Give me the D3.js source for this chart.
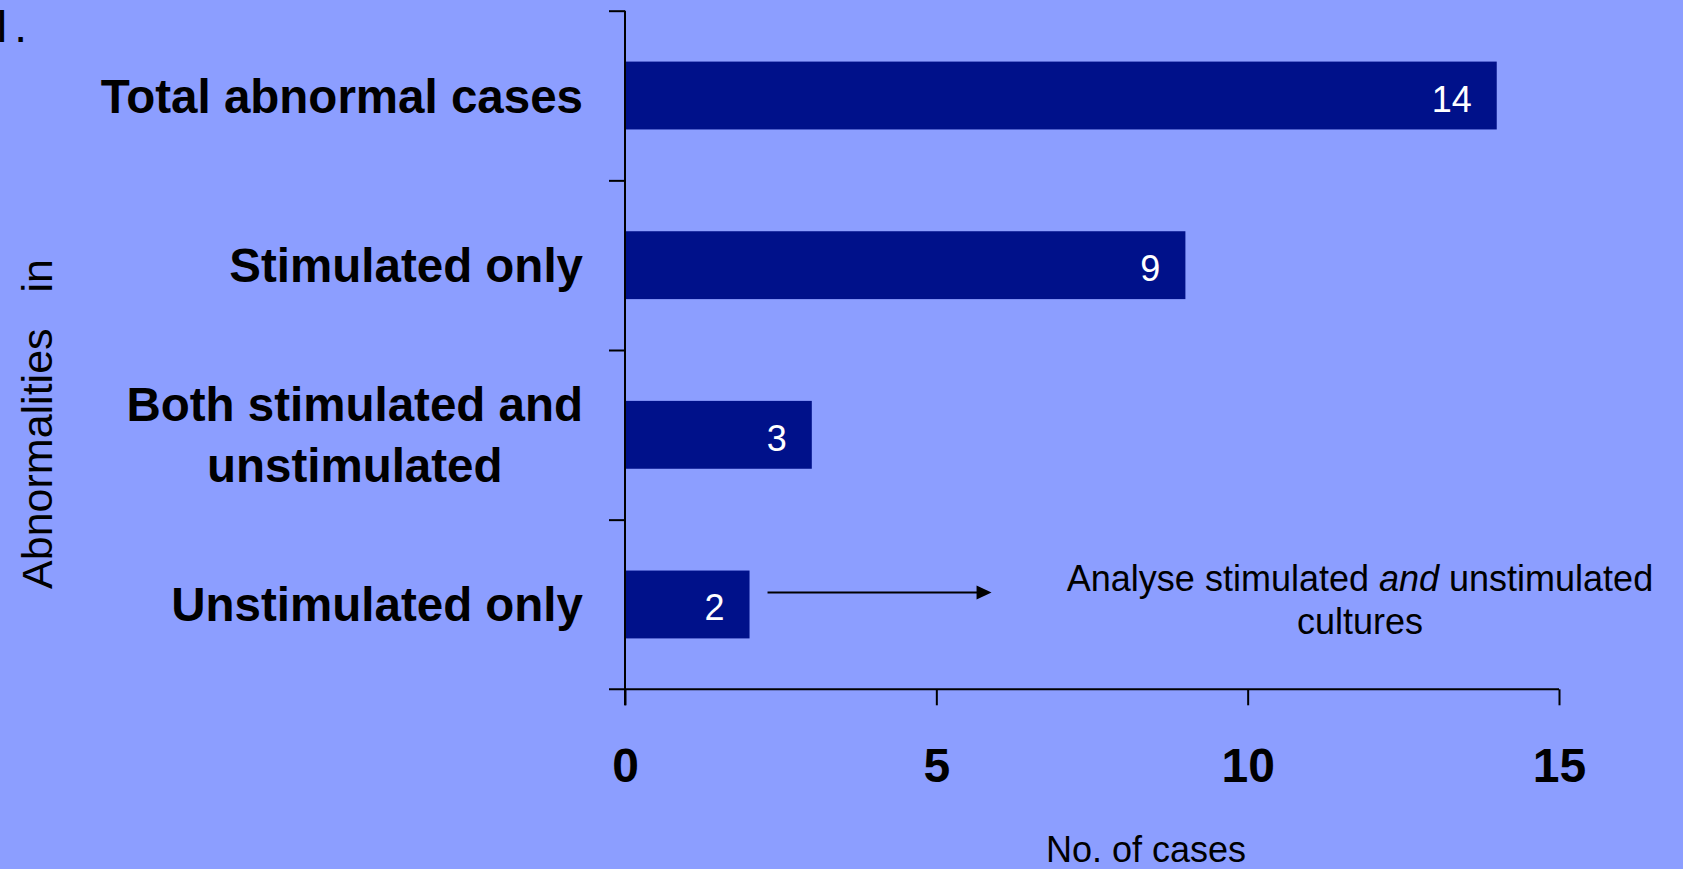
<!DOCTYPE html>
<html>
<head>
<meta charset="utf-8">
<script src="https://cdn.jsdelivr.net/npm/d3@7"></script>
<style>
  html, body { margin: 0; padding: 0; background: #8c9eff; overflow: hidden; }
  svg { display: block; font-family: "Liberation Sans", Arial, Helvetica, sans-serif; }
</style>
</head>
<body>
<svg id="chart" width="1683" height="869"></svg>
<script>
// Categories, top to bottom (multi-line labels split on "\n")
const categories = [
  "Total abnormal cases",
  "Stimulated only",
  "Both stimulated and\nunstimulated",
  "Unstimulated only"
];
const caseCounts = [14, 9, 3, 2];
const xTickValues = [0, 5, 10, 15];
const xDomain = [0, 15];
const xAxisTitle = "No. of cases";
const yAxisTitle = "Abnormalities   in";
const panelLabel = "I.";
const noteLine1 = ["Analyse stimulated ", "and", " unstimulated"];
const noteLine2 = "cultures";

(function () {
  const BG = "#8c9eff";
  const BAR = "#00118a";

  const svg = d3.select("#chart");
  svg.append("rect").attr("width", 1683).attr("height", 869).attr("fill", BG);

  // Plot area
  const plotLeft = 625, plotRight = 1559, plotTop = 10.7, plotBottom = 689.3;

  const x = d3.scaleLinear().domain(xDomain).range([plotLeft, plotRight]);
  const yBand = d3.scaleBand()
    .domain(categories)
    .range([plotTop, plotBottom])
    .paddingInner(0.6)
    .paddingOuter(0.3);
  // Category boundaries for the y-axis tick marks
  const yEdge = d3.scaleLinear().domain([0, categories.length]).range([plotTop, plotBottom]);

  const data = categories.map((c, i) => ({ cat: c, value: caseCounts[i] }));

  // Bars
  svg.append("g").selectAll("rect")
    .data(data)
    .join("rect")
    .attr("x", x(0))
    .attr("y", d => yBand(d.cat))
    .attr("width", d => x(d.value) - x(0))
    .attr("height", yBand.bandwidth())
    .attr("fill", BAR);

  // Value labels inside bar ends
  svg.append("g").selectAll("text")
    .data(data)
    .join("text")
    .attr("x", d => x(d.value) - 25)
    .attr("y", d => yBand(d.cat) + yBand.bandwidth() / 2 + 16)
    .attr("text-anchor", "end")
    .attr("fill", "#ffffff")
    .attr("font-size", 36)
    .text(d => d.value);

  // X axis
  const xAxis = d3.axisBottom(x)
    .tickValues(xTickValues)
    .tickSizeInner(16)
    .tickSizeOuter(0)
    .tickPadding(42.5)
    .tickFormat(d3.format("d"));
  const gx = svg.append("g").attr("transform", `translate(0,${plotBottom})`).call(xAxis);
  gx.select(".domain").attr("stroke", "#000").attr("stroke-width", 2)
    .attr("d", `M${plotLeft - 16},0H${plotRight}`);
  gx.selectAll(".tick line").attr("stroke", "#000").attr("stroke-width", 2);
  gx.selectAll(".tick text")
    .attr("fill", "#000")
    .attr("font-size", 48)
    .attr("font-weight", "bold")
    .attr("font-family", "'Liberation Sans', Arial, sans-serif");

  // Y axis: line with ticks at category boundaries, no labels
  const yAxis = d3.axisLeft(yEdge)
    .tickValues(d3.range(0, categories.length))
    .tickSizeInner(16)
    .tickSizeOuter(0)
    .tickFormat("");
  const gy = svg.append("g").attr("transform", `translate(${plotLeft},0)`).call(yAxis);
  gy.select(".domain").attr("stroke", "#000").attr("stroke-width", 2)
    .attr("d", `M0,${plotTop}V${plotBottom + 16}`);
  gy.selectAll(".tick line").attr("stroke", "#000").attr("stroke-width", 2);

  // Category labels: block right-aligned to the axis, lines centred within the block
  const labelRight = 583;
  const catFont = 47.5, catLine = 60.7;
  const gl = svg.append("g")
    .attr("font-size", catFont)
    .attr("font-weight", "bold")
    .attr("fill", "#000");
  data.forEach(d => {
    const lines = d.cat.split("\n");
    const cy = yBand(d.cat) + yBand.bandwidth() / 2;
    const t = gl.append("text").attr("text-anchor", "middle");
    lines.forEach((ln, i) => {
      t.append("tspan")
        .attr("y", cy + 17 + (i - (lines.length - 1) / 2) * catLine)
        .text(ln);
    });
    const w = d3.max(t.selectAll("tspan").nodes(), n => n.getComputedTextLength());
    t.selectAll("tspan").attr("x", labelRight - w / 2);
  });

  // Axis titles
  svg.append("text")
    .attr("x", 1146)
    .attr("y", 861.7)
    .attr("text-anchor", "middle")
    .attr("font-size", 36)
    .attr("fill", "#000")
    .text(xAxisTitle);

  svg.append("text")
    .attr("transform", "translate(51.5,424) rotate(-90)")
    .attr("text-anchor", "middle")
    .attr("font-size", 43)
    .attr("fill", "#000")
    .style("white-space", "pre")
    .text(yAxisTitle);

  // Panel label at the top-left corner
  svg.append("text")
    .attr("x", -4.5)
    .attr("y", 41.7)
    .attr("font-size", 46)
    .attr("letter-spacing", 6)
    .attr("fill", "#000")
    .text(panelLabel);

  // Annotation arrow from the "Unstimulated only" bar
  const last = data[data.length - 1];
  const arrowY = yBand(last.cat) + yBand.bandwidth() / 2 - 12;
  const ax0 = x(last.value) + 18, ax1 = ax0 + 224;
  svg.append("line")
    .attr("x1", ax0).attr("x2", ax1 - 14)
    .attr("y1", arrowY).attr("y2", arrowY)
    .attr("stroke", "#000").attr("stroke-width", 2);
  svg.append("path")
    .attr("d", `M${ax1},${arrowY}L${ax1 - 15},${arrowY - 7}L${ax1 - 15},${arrowY + 7}Z`)
    .attr("fill", "#000");

  // Annotation text
  const note = svg.append("text")
    .attr("text-anchor", "middle")
    .attr("font-size", 36)
    .attr("fill", "#000");
  const l1 = note.append("tspan").attr("x", 1360).attr("y", arrowY - 1.5);
  l1.append("tspan").text(noteLine1[0]);
  l1.append("tspan").attr("font-style", "italic").text(noteLine1[1]);
  l1.append("tspan").text(noteLine1[2]);
  note.append("tspan").attr("x", 1360).attr("y", arrowY + 41.5).text(noteLine2);
})();
</script>
</body>
</html>
